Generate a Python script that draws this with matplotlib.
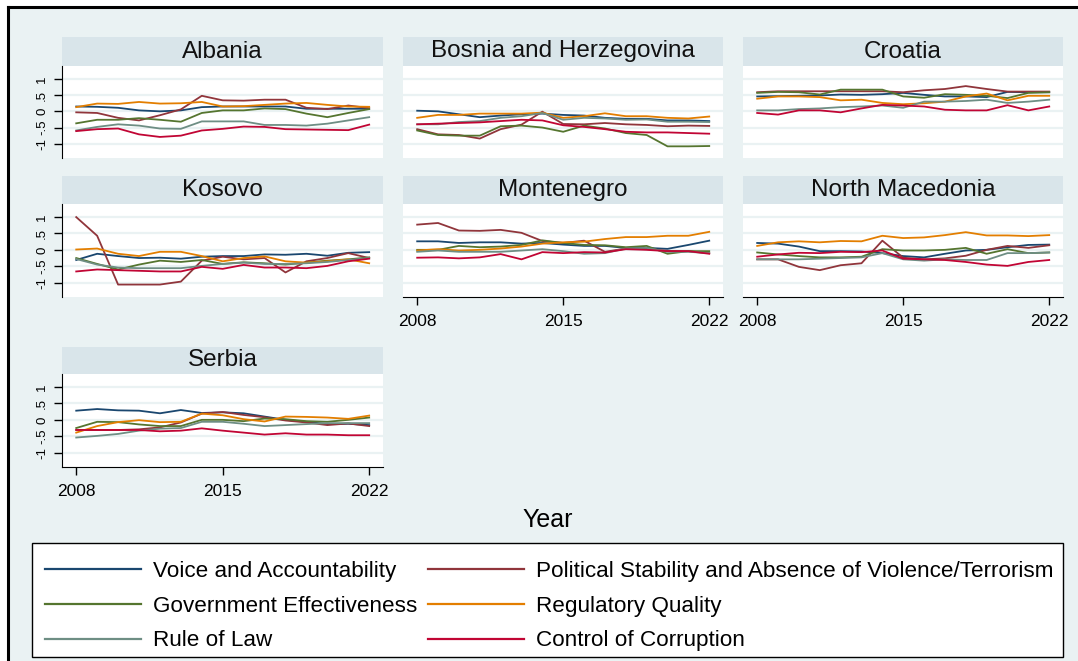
import matplotlib
matplotlib.use("Agg")
import matplotlib.pyplot as plt
from matplotlib.patches import Rectangle
from matplotlib.lines import Line2D

plt.rcParams['font.family'] = ['Liberation Sans', 'DejaVu Sans']

years = list(range(2008, 2023))
indicators = ["Voice and Accountability",
              "Political Stability and Absence of Violence/Terrorism",
              "Government Effectiveness",
              "Regulatory Quality",
              "Rule of Law",
              "Control of Corruption"]
colors = ["#1A476F", "#90353B", "#55752F", "#E37E00", "#6E8E84", "#C10534"]

# rows: VA, PS, GE, RQ, RL, CC
albania = [
    [0.15, 0.14, 0.11, 0.03, 0.00, 0.03, 0.13, 0.15, 0.15, 0.15, 0.15, 0.08, 0.08, 0.08, 0.08],
    [-0.03, -0.05, -0.20, -0.28, -0.12, 0.06, 0.48, 0.34, 0.33, 0.36, 0.36, 0.11, 0.07, 0.18, 0.10],
    [-0.37, -0.26, -0.26, -0.21, -0.26, -0.32, -0.05, 0.03, 0.03, 0.09, 0.07, -0.07, -0.18, -0.05, 0.07],
    [0.13, 0.24, 0.23, 0.29, 0.24, 0.25, 0.29, 0.15, 0.16, 0.20, 0.24, 0.26, 0.20, 0.15, 0.14],
    [-0.59, -0.48, -0.40, -0.44, -0.53, -0.54, -0.31, -0.31, -0.31, -0.42, -0.42, -0.44, -0.38, -0.28, -0.18],
    [-0.61, -0.55, -0.53, -0.71, -0.79, -0.75, -0.59, -0.54, -0.47, -0.48, -0.55, -0.56, -0.57, -0.58, -0.41],
]
bosnia = [
    [0.02, 0.00, -0.09, -0.18, -0.13, -0.09, -0.07, -0.11, -0.13, -0.20, -0.23, -0.23, -0.28, -0.28, -0.30],
    [-0.55, -0.71, -0.73, -0.84, -0.55, -0.41, -0.01, -0.39, -0.40, -0.36, -0.40, -0.42, -0.46, -0.44, -0.45],
    [-0.59, -0.73, -0.75, -0.75, -0.46, -0.44, -0.50, -0.63, -0.44, -0.53, -0.67, -0.73, -1.08, -1.08, -1.07],
    [-0.20, -0.11, -0.11, -0.07, -0.07, -0.07, -0.04, -0.20, -0.15, -0.06, -0.15, -0.15, -0.20, -0.22, -0.16],
    [-0.40, -0.40, -0.33, -0.30, -0.20, -0.15, -0.05, -0.26, -0.20, -0.22, -0.26, -0.25, -0.32, -0.32, -0.33],
    [-0.40, -0.38, -0.36, -0.34, -0.30, -0.26, -0.28, -0.43, -0.48, -0.55, -0.63, -0.65, -0.65, -0.67, -0.69],
]
croatia = [
    [0.46, 0.47, 0.48, 0.49, 0.52, 0.51, 0.53, 0.57, 0.51, 0.46, 0.46, 0.44, 0.60, 0.59, 0.59],
    [0.59, 0.62, 0.62, 0.62, 0.62, 0.62, 0.62, 0.59, 0.65, 0.69, 0.78, 0.69, 0.61, 0.61, 0.61],
    [0.57, 0.60, 0.59, 0.52, 0.67, 0.67, 0.67, 0.46, 0.42, 0.53, 0.51, 0.48, 0.41, 0.57, 0.59],
    [0.39, 0.46, 0.46, 0.44, 0.34, 0.36, 0.26, 0.22, 0.25, 0.30, 0.46, 0.55, 0.34, 0.48, 0.48],
    [0.03, 0.03, 0.07, 0.09, 0.13, 0.15, 0.18, 0.11, 0.30, 0.30, 0.32, 0.36, 0.26, 0.30, 0.36],
    [-0.05, -0.10, 0.03, 0.03, -0.03, 0.09, 0.20, 0.18, 0.15, 0.05, 0.03, 0.03, 0.19, 0.03, 0.15],
]
kosovo = [
    [-0.31, -0.12, -0.19, -0.25, -0.24, -0.27, -0.21, -0.19, -0.19, -0.14, -0.15, -0.12, -0.18, -0.09, -0.07],
    [1.00, 0.43, -1.06, -1.06, -1.06, -0.97, -0.33, -0.21, -0.29, -0.25, -0.69, -0.35, -0.25, -0.10, -0.25],
    [-0.25, -0.43, -0.60, -0.45, -0.33, -0.37, -0.31, -0.43, -0.38, -0.41, -0.45, -0.39, -0.33, -0.29, -0.23],
    [0.01, 0.04, -0.12, -0.19, -0.06, -0.06, -0.19, -0.35, -0.25, -0.20, -0.35, -0.39, -0.35, -0.29, -0.41],
    [-0.28, -0.45, -0.54, -0.56, -0.56, -0.56, -0.49, -0.43, -0.39, -0.43, -0.43, -0.41, -0.37, -0.31, -0.25],
    [-0.66, -0.60, -0.62, -0.64, -0.66, -0.66, -0.52, -0.58, -0.46, -0.54, -0.54, -0.56, -0.49, -0.35, -0.27],
]
montenegro = [
    [0.26, 0.26, 0.21, 0.23, 0.23, 0.19, 0.21, 0.16, 0.12, 0.12, 0.06, 0.06, 0.03, 0.15, 0.28],
    [0.77, 0.82, 0.59, 0.58, 0.61, 0.52, 0.27, 0.21, 0.28, -0.06, 0.04, 0.02, -0.03, -0.04, -0.10],
    [0.00, 0.00, 0.12, 0.08, 0.10, 0.15, 0.29, 0.21, 0.15, 0.14, 0.08, 0.12, -0.12, -0.04, -0.04],
    [-0.02, 0.02, -0.02, 0.00, 0.04, 0.10, 0.19, 0.23, 0.25, 0.33, 0.39, 0.39, 0.43, 0.43, 0.55],
    [-0.06, -0.02, -0.06, -0.06, -0.06, -0.02, 0.02, -0.04, -0.12, -0.10, 0.04, 0.06, -0.06, -0.06, -0.10],
    [-0.24, -0.23, -0.26, -0.23, -0.13, -0.29, -0.07, -0.10, -0.07, -0.08, 0.02, 0.00, -0.04, -0.04, -0.12],
]
north_macedonia = [
    [0.21, 0.19, 0.10, -0.04, -0.04, -0.05, -0.10, -0.19, -0.23, -0.12, -0.02, 0.00, 0.08, 0.15, 0.16],
    [-0.29, -0.29, -0.52, -0.62, -0.47, -0.41, 0.28, -0.24, -0.29, -0.26, -0.18, 0.00, 0.12, 0.06, 0.14],
    [-0.08, -0.14, -0.19, -0.23, -0.23, -0.21, 0.02, -0.02, -0.02, 0.00, 0.06, -0.12, 0.02, -0.10, -0.08],
    [0.12, 0.23, 0.26, 0.23, 0.27, 0.26, 0.43, 0.36, 0.38, 0.45, 0.54, 0.44, 0.44, 0.42, 0.45],
    [-0.29, -0.29, -0.29, -0.27, -0.25, -0.23, -0.10, -0.29, -0.33, -0.29, -0.31, -0.31, -0.10, -0.10, -0.08],
    [-0.21, -0.14, -0.09, -0.10, -0.06, -0.07, -0.02, -0.27, -0.29, -0.31, -0.37, -0.45, -0.49, -0.37, -0.31],
]
serbia = [
    [0.28, 0.33, 0.29, 0.28, 0.20, 0.30, 0.21, 0.23, 0.20, 0.10, 0.00, -0.06, -0.13, -0.12, -0.16],
    [-0.31, -0.31, -0.31, -0.29, -0.23, -0.08, 0.19, 0.24, 0.15, 0.08, -0.02, -0.08, -0.16, -0.11, -0.19],
    [-0.25, -0.06, -0.07, -0.14, -0.19, -0.19, 0.00, 0.00, -0.04, 0.04, 0.02, -0.04, -0.06, 0.00, 0.07],
    [-0.39, -0.19, -0.07, -0.01, -0.07, -0.06, 0.19, 0.14, 0.02, -0.05, 0.10, 0.09, 0.07, 0.03, 0.13],
    [-0.54, -0.49, -0.43, -0.33, -0.27, -0.25, -0.06, -0.06, -0.12, -0.19, -0.16, -0.13, -0.10, -0.10, -0.10],
    [-0.31, -0.31, -0.31, -0.31, -0.35, -0.33, -0.26, -0.33, -0.39, -0.45, -0.41, -0.45, -0.45, -0.47, -0.47],
]

countries = ["Albania", "Bosnia and Herzegovina", "Croatia", "Kosovo",
             "Montenegro", "North Macedonia", "Serbia"]
country_data = [albania, bosnia, croatia, kosovo, montenegro, north_macedonia, serbia]

W, H = 1078, 661
BG = "#EAF2F3"
STRIP = "#D9E5EA"

fig = plt.figure(figsize=(W / 100, H / 100), dpi=100)
fig.patch.set_facecolor("white")

# graph region with black frame on top / left
fig.patches.append(Rectangle((8 / W, 0), 1, 1 - 7 / H, transform=fig.transFigure,
                             facecolor=BG, edgecolor="none", zorder=-10))
fig.lines.append(Line2D([8 / W, 8 / W], [0, 1 - 7 / H], transform=fig.transFigure,
                        color="black", lw=2.2, zorder=-5))
fig.lines.append(Line2D([8 / W, 1], [1 - 7 / H, 1 - 7 / H], transform=fig.transFigure,
                        color="black", lw=2.2, zorder=-5))

col_x = [(62, 383), (403, 723), (743, 1063)]
row_y = [(37, 66, 158), (176, 204, 297), (347, 374, 467)]  # strip top, plot top, plot bottom

for i, (name, series) in enumerate(zip(countries, country_data)):
    r, c = divmod(i, 3)
    x0, x1 = col_x[c]
    st, pt, pb = row_y[r]
    ax = fig.add_axes([x0 / W, 1 - pb / H, (x1 - x0) / W, (pb - pt) / H])
    ax.set_facecolor("white")
    # title strip
    fig.patches.append(Rectangle((x0 / W, 1 - pt / H), (x1 - x0) / W, (pt - st) / H,
                                 transform=fig.transFigure, facecolor=STRIP,
                                 edgecolor="none", zorder=-5))
    fig.text((x0 + x1) / 2 / W, 1 - (st + pt) / 2 / H, name, ha="center", va="center",
             fontsize=17.5, color="#111111")

    for vals, col in zip(series, colors):
        ax.plot(years, vals, color=col, lw=1.3)

    ax.set_xlim(2007.32, 2022.66)
    ax.set_ylim(-1.44, 1.40)
    ax.set_yticks([-1, -0.5, 0, 0.5, 1])
    ax.grid(axis="y", color=BG, lw=1.6)
    ax.set_axisbelow(True)
    for s in ["top", "right"]:
        ax.spines[s].set_visible(False)

    if c == 0:
        ax.set_yticklabels(["-1", "-.5", "0", ".5", "1"], rotation=90, va="center",
                           fontsize=9.5)
        ax.tick_params(axis="y", length=6, width=1, pad=4)
        ax.spines["left"].set_color("black")
    else:
        ax.spines["left"].set_visible(False)
        ax.tick_params(axis="y", left=False, labelleft=False)

    bottom_row = (i + 3 >= len(countries))
    ax.set_xticks([2008, 2015, 2022])
    if bottom_row:
        ax.set_xticklabels(["2008", "2015", "2022"], fontsize=12.5)
        ax.tick_params(axis="x", length=6, width=1, pad=6)
        ax.spines["bottom"].set_color("black")
    else:
        ax.spines["bottom"].set_visible(False)
        ax.tick_params(axis="x", bottom=False, labelbottom=False)

fig.text(548 / W, 1 - 520 / H, "Year", ha="center", va="center", fontsize=18)

# legend box
fig.patches.append(Rectangle((32 / W, 1 - 657 / H), (1063 - 32) / W, (657 - 543) / H,
                             transform=fig.transFigure, facecolor="white",
                             edgecolor="black", lw=1.0, zorder=-4))
handles = [Line2D([], [], color=col, lw=1.6) for col in colors]
order = [0, 2, 4, 1, 3, 5]
leg = fig.legend([handles[k] for k in order], [indicators[k] for k in order],
                 ncol=2, loc="upper left", bbox_to_anchor=(45 / W, 1 - 561 / H),
                 fontsize=16.2, frameon=False,
                 handlelength=4.27, handletextpad=0.55, columnspacing=0.45,
                 labelspacing=0.61, borderpad=0, borderaxespad=0)

plt.savefig("out.png", dpi=100)
